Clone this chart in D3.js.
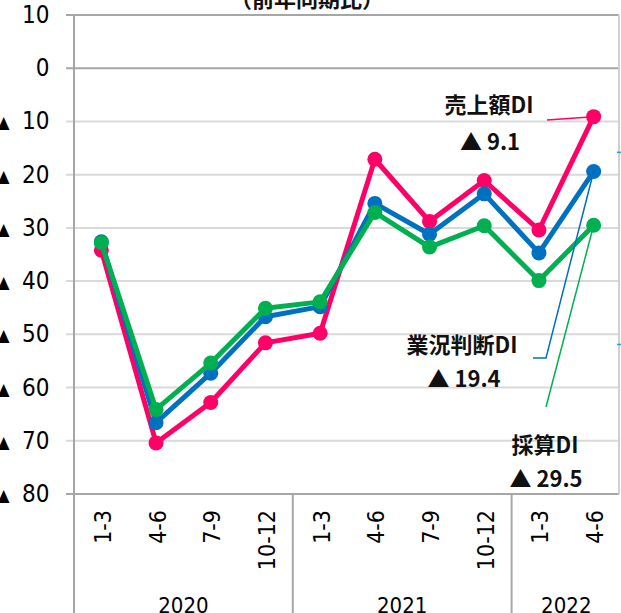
<!DOCTYPE html>
<html>
<head>
<meta charset="utf-8">
<script src="https://cdn.jsdelivr.net/npm/d3@7"></script>
<style>
body { margin: 0; background: #fff; }
svg { display: block; }
.tick-label { font-family: "DejaVu Sans Condensed", "DejaVu Sans", sans-serif; font-stretch: condensed; fill: #000; }
.note { font-family: "Noto Sans CJK JP", sans-serif; font-weight: bold; fill: #111; }
</style>
</head>
<body>
<script>
// data
var quarters = ["1-3", "4-6", "7-9", "10-12", "1-3", "4-6", "7-9", "10-12", "1-3", "4-6"];
var years = ["2020", "2021", "2022"];
var yearSpan = [4, 4, 2];
var yTicks = [10, 0, -10, -20, -30, -40, -50, -60, -70, -80];
var sales = [-34.2, -70.4, -62.8, -51.6, -49.8, -17.1, -28.8, -21.1, -30.4, -9.1];
var business = [-32.6, -66.6, -57.3, -46.7, -44.8, -25.4, -31.2, -23.6, -34.7, -19.4];
var profit = [-32.8, -64.1, -55.4, -45.1, -43.9, -27.1, -33.6, -29.6, -39.9, -29.5];

var series = [
	{ name: "売上額DI", values: sales, color: "#ff0066" },
	{ name: "業況判断DI", values: business, color: "#0070c0" },
	{ name: "採算DI", values: profit, color: "#00b050" }
];

var width = 621, height = 613,
	plotLeft = 74, plotRight = 621, plotTop = 15, plotBottom = 494;

var fmt = function (v) { return v < 0 ? "▲ " + Math.abs(v) : String(v); };

var x = d3.scaleBand().domain(d3.range(quarters.length)).range([plotLeft, plotRight]);
var y = d3.scaleLinear().domain([10, -80]).range([plotTop, plotBottom]);

var svg = d3.select("body").append("svg")
	.attr("width", width)
	.attr("height", height);

// title (cut off at the top)
svg.append("text")
	.attr("class", "note")
	.attr("x", 307)
	.attr("y", -3)
	.attr("dominant-baseline", "central")
	.attr("text-anchor", "middle")
	.style("font-size", "22px")
	.text("（前年同期比）");

// grid
svg.selectAll(".grid")
	.data(yTicks)
	.enter().append("line")
	.attr("x1", plotLeft - 8)
	.attr("x2", 619)
	.attr("y1", d => y(d))
	.attr("y2", d => y(d))
	.attr("stroke", d => (d === 10 || d === 0 || d === -80) ? "#a6a6a6" : "#d9d9d9")
	.attr("stroke-width", 2);

svg.append("line")
	.attr("x1", 619).attr("x2", 619)
	.attr("y1", plotTop).attr("y2", plotBottom)
	.attr("stroke", "#d0d0d0").attr("stroke-width", 2);

// y labels: number, plus a smaller triangle for negatives
svg.selectAll(".ylab")
	.data(yTicks)
	.enter().append("text")
	.attr("class", "tick-label")
	.attr("x", 49.5)
	.attr("y", d => y(d))
	.attr("dominant-baseline", "central")
	.attr("text-anchor", "end")
	.style("font-size", "24px")
	.text(d => Math.abs(d));

svg.selectAll(".ytri")
	.data(yTicks.filter(d => d < 0))
	.enter().append("text")
	.attr("class", "tick-label")
	.attr("x", 9.5)
	.attr("y", d => y(d) + 1)
	.attr("dominant-baseline", "central")
	.attr("text-anchor", "end")
	.style("font-size", "17px")
	.text("▲");

// axis + group separators
var bounds = [0];
yearSpan.forEach(function (n, i) { bounds.push(bounds[i] + n); });
svg.selectAll(".sep")
	.data(bounds.slice(0, 3))
	.enter().append("line")
	.attr("x1", d => x(d))
	.attr("x2", d => x(d))
	.attr("y1", d => d === 0 ? plotTop : plotBottom)
	.attr("y2", height)
	.attr("stroke", "#a6a6a6")
	.attr("stroke-width", 2);

// quarter labels
svg.selectAll(".qlab")
	.data(quarters)
	.enter().append("text")
	.attr("class", "tick-label")
	.attr("transform", (d, i) => "translate(" + (x(i) + x.bandwidth() / 2 + 1.5) + ",510) rotate(-90)")
	.attr("dominant-baseline", "central")
	.attr("text-anchor", "end")
	.style("font-size", "23px")
	.text(d => d);

// year labels
svg.selectAll(".yrlab")
	.data(years)
	.enter().append("text")
	.attr("class", "tick-label")
	.attr("x", (d, i) => (x(bounds[i]) + (i === 2 ? plotRight : x(bounds[i + 1]))) / 2)
	.attr("y", 612.5)
	.attr("text-anchor", "middle")
	.style("font-size", "22px")
	.text(d => d);

// leader lines
var last = quarters.length - 1;
var cx = x(last) + x.bandwidth() / 2;
var leaders = [
	{ pts: [[547, 120], [cx, y(sales[last])]], color: "#ff0066" },
	{ pts: [[533, 358], [546, 358], [cx, y(business[last])]], color: "#0070c0" },
	{ pts: [[546, 407], [cx, y(profit[last])]], color: "#00b050" }
];

// series
var line = d3.line()
	.x((d, i) => x(i) + x.bandwidth() / 2)
	.y(d => y(d));

series.forEach(function (s) {
	svg.append("path")
		.attr("d", line(s.values))
		.attr("fill", "none")
		.attr("stroke", s.color)
		.attr("stroke-width", 5)
		.attr("stroke-linejoin", "round");
	svg.selectAll(null)
		.data(s.values)
		.enter().append("circle")
		.attr("cx", (d, i) => x(i) + x.bandwidth() / 2)
		.attr("cy", d => y(d))
		.attr("r", 7.5)
		.attr("fill", s.color);
});

leaders.forEach(function (l) {
	svg.append("path")
		.attr("d", d3.line()(l.pts))
		.attr("fill", "none")
		.attr("stroke", l.color)
		.attr("stroke-width", 1.5);
});

// small cyan marks at right edge
[-15.8, -51.9].forEach(function (v) {
	svg.append("line")
		.attr("x1", 617).attr("x2", 621)
		.attr("y1", y(v)).attr("y2", y(v))
		.attr("stroke", "#00b0f0").attr("stroke-width", 1.5);
});

// callouts
var notes = [
	{ text: "売上額DI", x: 489, y: 103 },
	{ text: fmt(sales[last]), x: 490, y: 140 },
	{ text: "業況判断DI", x: 462, y: 343 },
	{ text: fmt(business[last]), x: 464, y: 377 },
	{ text: "採算DI", x: 545, y: 443 },
	{ text: fmt(profit[last]), x: 546, y: 477 }
];
svg.selectAll(".note-t")
	.data(notes)
	.enter().append("text")
	.attr("class", "note")
	.attr("x", d => d.x)
	.attr("y", d => d.y)
	.attr("text-anchor", "middle")
	.attr("dominant-baseline", "central")
	.style("font-size", "22px")
	.text(d => d.text);
</script>
</body>
</html>
